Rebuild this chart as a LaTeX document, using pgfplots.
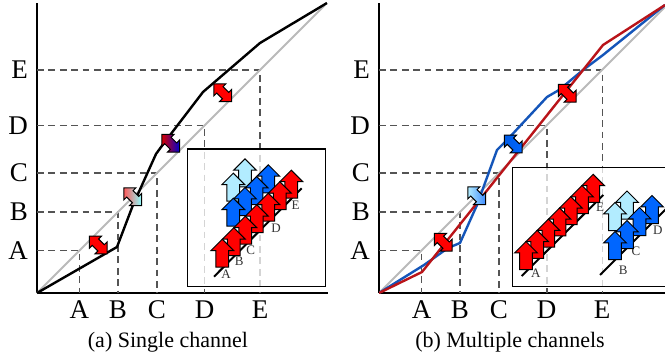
\documentclass[border=0pt]{standalone}
\usepackage{fontspec}
\setmainfont{Liberation Serif}
\usepackage{pgfplots}
\pgfplotsset{compat=1.18}
\usetikzlibrary{shapes.arrows}
\definecolor{redA}{RGB}{255,0,0}
\definecolor{blueD}{RGB}{0,102,255}
\definecolor{blueL}{RGB}{178,236,255}
\definecolor{curveBlue}{RGB}{20,85,185}
\definecolor{curveRed}{RGB}{185,20,25}
\definecolor{guide}{gray}{0.33}
\pgfplotsset{
  panel/.style={
    scale only axis,
    axis x line=bottom, axis y line=left,
    axis line style={-, line width=1.1pt},
    xmin=0, ymin=0, ymax=290,
    height=145pt,
    xtick={42.5,81,120,167.5,223}, ytick={42.5,81,120,167.5,223},
    xticklabels={A,B,C,D,E}, yticklabels={A,B,C,D,E},
    major tick length=0pt,
    tick label style={font=\fontsize{13.5}{15}\selectfont},
    yticklabel style={xshift=-1pt},
    xticklabel style={yshift=-0.5pt},
    xlabel style={font=\fontsize{11}{13}\selectfont, anchor=base, at={(axis description cs:0.45,0)}, yshift=-27pt},
  },
  guide/.style={draw=guide, dash pattern=on 3.4pt off 2.3pt, line width=0.65pt},
  dbl/.style={only marks, mark=none, nodes near coords={},
    every node near coord/.append style={double arrow, draw=black, line width=0.5pt, rotate=-45, anchor=center,
      inner xsep=0pt, inner ysep=2pt, double arrow head extend=2pt, double arrow tip angle=90,
      minimum height=12.5pt, #1}},
  up/.style={only marks, mark=none, nodes near coords={},
    every node near coord/.append style={single arrow, draw=black, line width=0.5pt, fill=#1, rotate=90, anchor=tail,
      inner xsep=0pt, inner ysep=2.9pt, single arrow head extend=2.5pt, single arrow tip angle=90,
      minimum height=14pt}},
  lab/.style={only marks, mark=none, point meta=explicit symbolic, nodes near coords,
    every node near coord/.append style={anchor=center, inner sep=0pt, font=\fontsize{6.5}{7}\selectfont, text=black!80}},
}
\begin{document}
\begin{tikzpicture}
\path[use as bounding box] (-18.5pt,-33.5pt) rectangle (314pt,146.5pt);
% ---------------- (a) ----------------
\begin{axis}[panel, at={(0pt,0pt)}, xmax=291, width=145.5pt, clip=false,
  xlabel={(a) Single channel}]
\addplot[guide] coordinates {(0,42.5)(42.5,42.5)(42.5,0)};
\addplot[guide] coordinates {(0,81)(81,81)(81,0)};
\addplot[guide] coordinates {(0,120)(120,120)(120,0)};
\addplot[guide] coordinates {(0,167.5)(167.5,167.5)(167.5,0)};
\addplot[guide] coordinates {(0,223)(223,223)(223,0)};
\addplot[black!27, line width=0.9pt] coordinates {(0,0)(288,288)};
\addplot[black, line width=1.2pt] coordinates {(0,0)(80,46)(96,88)(119,139)(127,150)(166,201)(223,250)(290,290)};
\addplot[dbl={fill=redA}] coordinates {(61.3,48)(185.7,200.3)};
\addplot[dbl={left color=red!65, right color=cyan!45}] coordinates {(95.7,96.3)};
\addplot[dbl={left color=red!85!black, right color=blue!80!black}] coordinates {(133.7,149.7)};
% inset
\addplot[draw=black, line width=0.7pt, fill=white, fill opacity=0.75] coordinates {(150.3,6.3)(288.7,6.3)(288.7,144)(150.3,144)} -- cycle;
\addplot[black, line width=1pt] coordinates {(177,16.3)(264.7,104.7)};
\addplot[lab] coordinates {(189,19)[A] (202.3,31.3)[B] (213.7,43)[C] (239,64.3)[D] (258.7,88)[E]};
\addplot[up=blueL] coordinates {(208,105.7)(196.3,91.3)};
\addplot[up=blueD] coordinates {(231.3,99.7)(219.7,88)(208,77)(196.3,66.3)};
\addplot[up=redA] coordinates {(254.3,94.3)(242.8,82.8)(231.3,71.3)(219.8,59.8)(208.3,48.3)(196.8,36.8)(185.3,25.3)};
\end{axis}
% ---------------- (b) ----------------
\begin{axis}[panel, at={(171pt,0pt)}, xmax=286, width=143pt, clip=true,
  xlabel={(b) Multiple channels}, xlabel style={at={(axis description cs:0.458,0)}}]
\addplot[guide] coordinates {(0,42.5)(42.5,42.5)(42.5,0)};
\addplot[guide] coordinates {(0,81)(81,81)(81,0)};
\addplot[guide] coordinates {(0,120)(120,120)(120,0)};
\addplot[guide] coordinates {(0,167.5)(168,167.5)(168,0)};
\addplot[guide] coordinates {(0,223)(223.5,223)(223.5,0)};
\addplot[black!27, line width=0.9pt] coordinates {(0,0)(287,287)};
\addplot[curveBlue, line width=1.2pt] coordinates {(0,0)(45,28)(69,45)(81,50)(98,88)(118,143)(128,153)(168,196)(180,203)(204,223)(224,238)(286,288)};
\addplot[curveRed, line width=1.2pt] coordinates {(0,0)(43,21)(224,248)(286,288)};
\addplot[dbl={fill=redA}] coordinates {(64.3,50.7)(188.3,199.7)};
\addplot[dbl={left color=blueL, right color=blueD!75}] coordinates {(97.7,97.3)};
\addplot[dbl={left color=blueD!90!black, right color=blueD}] coordinates {(134.3,149)};
% inset
\addplot[draw=black, line width=0.7pt, fill=white, fill opacity=0.75] coordinates {(133.3,6.3)(300,6.3)(300,125.7)(133.3,125.7)} -- cycle;
\addplot[black, line width=1pt] coordinates {(142.7,17)(224.3,98)};
\addplot[black, line width=1pt] coordinates {(221,18)(292,89)};
\addplot[lab] coordinates {(156.7,19.7)[A] (221,85.5)[E] (244.3,23)[B] (257,41.3)[C] (278.7,63)[D]};
\addplot[up=redA] coordinates {(214.2,90.2)(203,79)(191.8,67.8)(180.6,56.6)(169.4,45.4)(158.2,34.2)(147,23)};
\addplot[up=blueL] coordinates {(248,73.5)(236,62)};
\addplot[up=blueD] coordinates {(273,69)(260.5,57)(248,44)(236,33)};
\end{axis}
\end{tikzpicture}
\end{document}
